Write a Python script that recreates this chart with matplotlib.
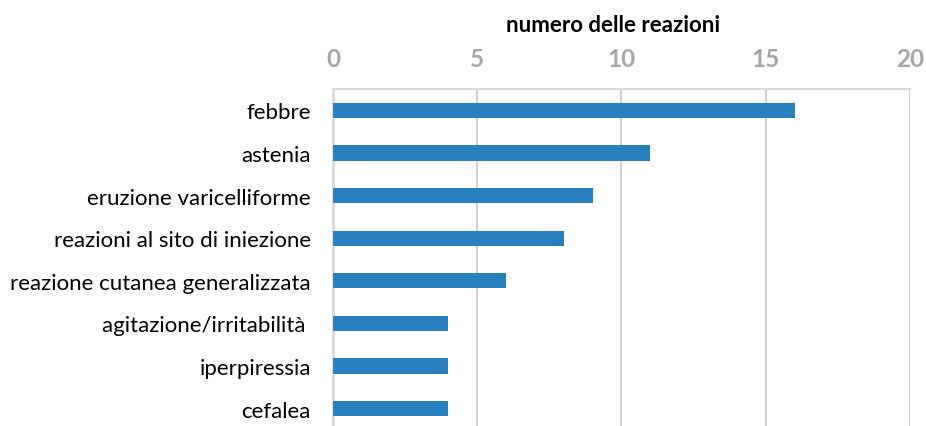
import matplotlib.pyplot as plt
import numpy as np

categories = ['febbre', 'astenia', 'eruzione varicelliforme', 'reazioni al sito di iniezione',
              'reazione cutanea generalizzata', 'agitazione/irritabilità ', 'iperpiressia', 'cefalea']
values = [16, 11, 9, 8, 6, 4, 4, 4]
xticks = [0, 5, 10, 15, 20]

plt.rcParams['font.family'] = ['Lato', 'DejaVu Sans']

fig = plt.figure(figsize=(9.26, 4.27), dpi=100)
ax = fig.add_axes([0.3596, -0.0094, 0.6231, 0.7986])

y = np.arange(len(categories))
ax.barh(y, values, height=0.36, color='#2980BF', zorder=3)
ax.set_ylim(len(categories) - 0.5, -0.5)
ax.set_xlim(0, 20)
ax.set_yticks(y)
ax.set_yticklabels(categories, fontsize=16)
ax.set_xticks(xticks)
ax.xaxis.tick_top()
ax.xaxis.set_label_position('top')
ax.tick_params(axis='x', length=0, pad=14, labelsize=17.5, labelcolor='#A6A6A6')
for lbl in ax.get_xticklabels():
    lbl.set_fontweight('bold')
ax.tick_params(axis='y', length=0, pad=16)
ax.set_xlabel('numero delle reazioni', fontsize=16, fontweight='bold')

ax.grid(axis='x', color='#D0D0D0', linewidth=1.5, zorder=0)
for s in ['right', 'bottom']:
    ax.spines[s].set_visible(False)
ax.spines['top'].set_color('#D9D9D9')
ax.spines['top'].set_linewidth(1.5)
ax.spines['left'].set_color('#D9D9D9')
ax.spines['left'].set_linewidth(2)

# place the axis title above the tick labels
ax.xaxis.set_label_coords(0.485, 1.0 + 58 / (0.7986 * 427))
ax.xaxis.label.set_va('baseline')

fig.savefig('out.png', dpi=100)
